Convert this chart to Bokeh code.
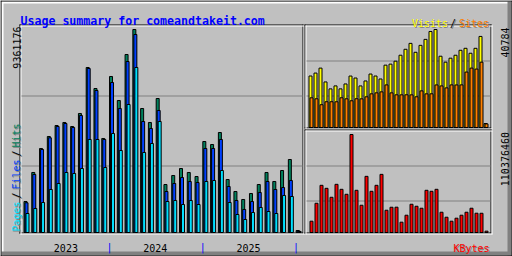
import math
from bokeh.plotting import figure
from bokeh.models import Range1d
from bokeh.embed import file_html
from bokeh.resources import INLINE
from bokeh.core.properties import value

# ---------------- data ----------------
months = ["2023-02", "2023-03", "2023-04", "2023-05", "2023-06", "2023-07",
          "2023-08", "2023-09", "2023-10", "2023-11", "2023-12",
          "2024-01", "2024-02", "2024-03", "2024-04", "2024-05", "2024-06",
          "2024-07", "2024-08", "2024-09", "2024-10", "2024-11", "2024-12",
          "2025-01", "2025-02", "2025-03", "2025-04", "2025-05", "2025-06",
          "2025-07", "2025-08", "2025-09", "2025-10", "2025-11", "2025-12",
          "2026-01"]
year_labels = ["2023", "2024", "2025"]

hits = [1430000, 2767000, 3874000, 4427000, 4934000, 5073000, 4888000, 5488000,
        7609000, 6640000, 4335000, 7194000, 6087000, 8208000, 9361176, 5718000,
        5073000, 6179000, 2213000, 2628000, 2951000, 2767000, 2582000, 4196000,
        4058000, 4611000, 2444000, 1891000, 1522000, 1798000, 2213000, 2767000,
        2352000, 2859000, 3366000, 92000]
files = [1370000, 2675000, 3827000, 4367000, 4888000, 5026000, 4842000, 5395000,
         7563000, 6548000, 4289000, 6917000, 5718000, 7885000, 9131000, 5119000,
         4796000, 5626000, 1891000, 2260000, 2536000, 2352000, 2306000, 3874000,
         3874000, 4289000, 2121000, 1476000, 1061000, 1430000, 1845000, 2352000,
         1983000, 2075000, 2398000, 69000]
pages = [876000, 1107000, 1383000, 1983000, 2260000, 2767000, 2721000, 2951000,
         4289000, 4289000, 2997000, 4565000, 3781000, 5903000, 7609000, 3689000,
         4104000, 5119000, 1430000, 1476000, 1291000, 1476000, 1291000, 2352000,
         2398000, 2859000, 1383000, 830000, 599000, 922000, 1153000, 968000,
         876000, 1706000, 1660000, 46000]
visits = [21430, 22650, 24710, 18960, 16070, 17310, 16080, 18120, 21410, 20590,
          17300, 19370, 22250, 21420, 20190, 25950, 26370, 27600, 30080, 32550,
          35010, 31300, 34190, 36670, 39960, 40784, 29660, 27190, 28840, 30070,
          32130, 32960, 30900, 32950, 37900, 1650]
sites = [12360, 11950, 9480, 10710, 10720, 10700, 12370, 11940, 11120, 11960,
         11930, 12770, 14010, 14420, 14830, 17720, 14410, 13600, 13590, 13610,
         13580, 12780, 15240, 14000, 14020, 17710, 17300, 16480, 17720, 17700,
         17730, 23070, 24720, 24310, 27190, 1500]
kbytes = [12721000, 32926000, 53130000, 49763000, 39661000, 54253000, 48641000,
          43028000, 110376460, 47518000, 30681000, 63233000, 46396000, 53130000,
          65478000, 25069000, 28436000, 28502000, 11599000, 19456000, 31803000,
          29558000, 27314000, 47518000, 46396000, 48641000, 22824000, 17211000,
          12721000, 16089000, 19456000, 22824000, 27314000, 21701000, 21655000,
          1497000]

# ---------------- style ----------------
W, H = 512, 256
GREY = "#C0C0C0"
DKGREY = "#808080"
C_HITS = "#00805C"
C_FILES = "#0040FF"
C_PAGES = "#00E0FF"
C_VISIT = "#FFFF00"
C_SITE = "#FF8000"
C_KBYTE = "#FF0000"
MONO = value("DejaVu Sans Mono")

MX0, MSTEP = 25.0, 7.775     # main chart: pixel of month 0, pixels per month
RX0, RSTEP = 310.0, 5.0      # right panels


def yrng(base_top, max_top, vmax):
    b = H - base_top
    t = H - max_top
    k = (t - b) / vmax
    return Range1d(-b / k, (H - b) / k)


p = figure(width=W, height=H, x_range=Range1d(0, W), y_range=Range1d(0, H),
           output_backend="svg", toolbar_location=None, min_border=0,
           x_axis_location=None, y_axis_location=None, title=None)
p.background_fill_color = GREY
p.border_fill_color = GREY
p.outline_line_color = None
p.grid.visible = False

p.extra_x_ranges = {"mx": Range1d(-MX0 / MSTEP, (W - MX0) / MSTEP),
                    "rx": Range1d(-RX0 / RSTEP, (W - RX0) / RSTEP)}
p.extra_y_ranges = {"my": yrng(232, 29, max(hits)),
                    "vy": yrng(127, 29, max(visits)),
                    "ky": yrng(232, 134, max(kbytes))}


def row(r):
    return H - r - 0.5


def col(c):
    return c + 0.5


# ---- frame bevel ----
p.quad(left=[1, 1], right=[511, 3], top=[H - 1, H - 1], bottom=[H - 3, 1],
       fill_color="white", line_color=None)
p.quad(left=[1, 507], right=[511, 511], top=[5, H - 1], bottom=[1, 1],
       fill_color=DKGREY, line_color=None)
p.segment(x0=[0, 0, col(0), col(511)], y0=[row(0), row(255), 0, 0],
          x1=[W, W, col(0), col(511)], y1=[row(0), row(255), H, H],
          line_color="black", line_width=1)


# ---- panel boxes ----
def box(l, t, r, b, color):
    p.segment(x0=[l, l, col(l), col(r)], y0=[row(t), row(b), H - t, H - t],
              x1=[r + 1, r + 1, col(l), col(r)], y1=[row(t), row(b), H - b - 1, H - b - 1],
              line_color=color, line_width=1)


for (l, t, r, b) in [(19, 24, 302, 232), (304, 24, 490, 127), (304, 129, 490, 232)]:
    box(l, t, r, b, "black")
    box(l + 1, t + 1, r + 1, b + 1, "white")

# ---- grid lines ----
p.segment(x0=[21, 21, 306, 306, 306, 306], y0=[row(95), row(165), row(60), row(95), row(165), row(200)],
          x1=[302, 302, 490, 490, 490, 490], y1=[row(95), row(165), row(60), row(95), row(165), row(200)],
          line_color=DKGREY, line_width=1)

# ---- main bars ----
idx = list(range(len(months)))
mp = 1.0 / MSTEP
for off, vals, colr in [(0, hits, C_HITS), (1, files, C_FILES), (2, pages, C_PAGES)]:
    p.vbar(x=[i + off * mp for i in idx], width=3 * mp, top=vals, bottom=0,
           x_range_name="mx", y_range_name="my",
           fill_color=colr, line_color="black", line_width=1)

# ---- right bars ----
rp = 1.0 / RSTEP
p.vbar(x=idx, width=3 * rp, top=visits, bottom=0, x_range_name="rx", y_range_name="vy",
       fill_color=C_VISIT, line_color="black", line_width=1)
p.vbar(x=[i + rp for i in idx], width=3 * rp, top=sites, bottom=0, x_range_name="rx",
       y_range_name="vy", fill_color=C_SITE, line_color="black", line_width=1)
p.vbar(x=[i + rp for i in idx], width=3 * rp, top=kbytes, bottom=0, x_range_name="rx",
       y_range_name="ky", fill_color=C_KBYTE, line_color="black", line_width=1)


# ---- texts ----
def txt(x, y, s, color, size="10px", align="left", angle=0.0, style="normal",
        shadow=False, xr="default"):
    if shadow:
        dx = 1 if xr == "default" else mp
        p.text(x=[x + dx], y=[H - y - 1], text=[s], text_color=DKGREY, text_font=MONO,
               text_font_size=size, text_align=align, text_baseline="alphabetic",
               angle=angle, text_font_style=style, x_range_name=xr)
    p.text(x=[x], y=[H - y], text=[s], text_color=color, text_font=MONO,
           text_font_size=size, text_align=align, text_baseline="alphabetic",
           angle=angle, text_font_style=style, x_range_name=xr)


txt(20, 20, "Usage summary for comeandtakeit.com", "#0000FF", size="11.6px", style="bold")

txt(411.5, 23, "Visits", C_VISIT, shadow=True)
txt(449.5, 23, "/", "black", shadow=True)
txt(458.5, 23, "Sites", C_SITE, shadow=True)
txt(453, 248, "KBytes", C_KBYTE, shadow=True)

up = math.pi / 2
txt(16.5, 26, str(max(hits)), "black", align="right", angle=up)
txt(504, 27, str(max(visits)), "black", align="right", angle=up)
txt(504, 131.5, str(max(kbytes)), "black", align="right", angle=up)

# left legend, reading upwards
seg = [("Pages", C_PAGES), ("/", "black"), ("Files", C_FILES), ("/", "black"), ("Hits", C_HITS)]
yy = 231
for s, c in seg:
    txt(15.5, yy, s, c, align="left", angle=up, shadow=True)
    yy -= len(s) * 6 + 3

# year labels and january ticks
for yl in year_labels:
    ii = [i for i, m in enumerate(months) if m.startswith(yl)]
    txt(sum(ii) / len(ii) + 1.5 * mp, 247, yl, "black", align="center", xr="mx")
for i, m in enumerate(months):
    if m.endswith("-01"):
        txt(i - 1.5 * mp, 247, "|", "#0000FF", align="center", xr="mx")

open("out.html", "w").write(file_html(p, INLINE))
